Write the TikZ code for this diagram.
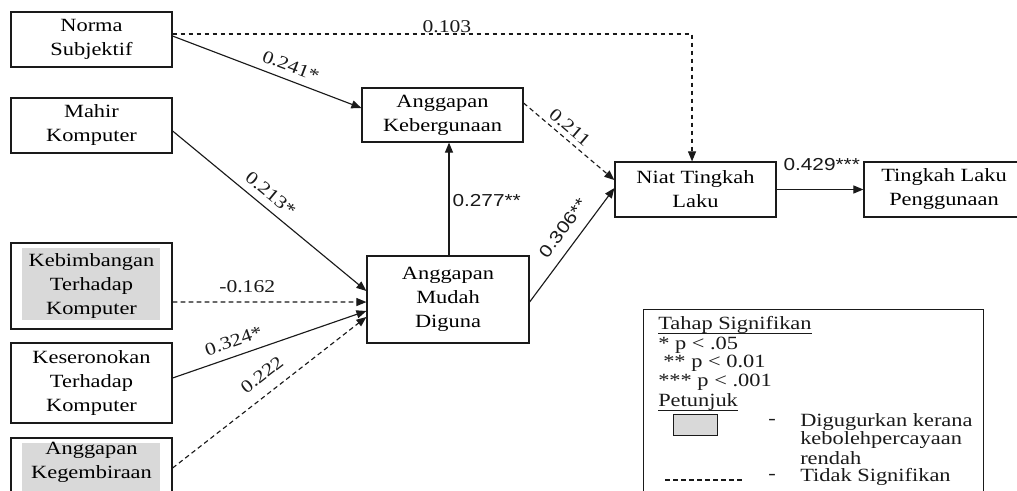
\documentclass[tikz,border=0pt]{standalone}
\usepackage{fontspec}
\usepackage{graphicx}
\setmainfont{Liberation Serif}
\newfontfamily\lsans{Liberation Sans}
\usetikzlibrary{arrows.meta}
\definecolor{lgrey}{HTML}{D9D9D9}
\definecolor{ink}{HTML}{1A1A1A}
\newcommand{\sx}[1]{\scalebox{1.2}[1]{#1}}
\newcommand{\legul}[1]{\underline{\raisebox{0pt}[\height][1.2pt]{#1}}}
\begin{document}
\begin{tikzpicture}[x=0.75pt,y=-0.75pt,
  box/.style={draw=ink, line width=0.9pt, inner sep=0pt, align=center, font=\fontsize{14}{18}\selectfont},
  conn/.style={draw=ink, line width=0.85pt, -{Triangle[length=7.5pt,width=6pt]}},
  dconn/.style={conn, dash pattern=on 3.5pt off 2.5pt},
  lab/.style={font=\fontsize{13.5}{15}\selectfont, text=ink},
  labsans/.style={font=\fontsize{13}{15}\lsans, text=ink},
  legtext/.style={font=\fontsize{14}{15}\selectfont, anchor=west, inner sep=0pt, text=ink}]
\useasboundingbox (0,0) rectangle (1017,490);
\clip (0,0) rectangle (1017,490);
\fill[white] (0,0) rectangle (1017,490);

% grey shading of dropped constructs
\fill[lgrey] (22,248) rectangle (160,320);
\fill[lgrey] (22,443) rectangle (160,510);

% boxes
\node[box, minimum width=120.75pt, minimum height=41.25pt] (norma) at (91.5,39.5) {\sx{Norma}\\\sx{Subjektif}};
\node[box, minimum width=120.75pt, minimum height=41.25pt] (mahir) at (91.5,125.5) {\sx{Mahir}\\\sx{Komputer}};
\node[box, minimum width=120.75pt, minimum height=64.5pt] (kebim) at (91.5,286) {\sx{Kebimbangan}\\\sx{Terhadap}\\\sx{Komputer}};
\node[box, minimum width=120.75pt, minimum height=60pt] (keser) at (91.5,383) {\sx{Keseronokan}\\\sx{Terhadap}\\\sx{Komputer}};
\node[box, minimum width=120.75pt, minimum height=51pt] (kegem) at (91.5,472) {\sx{Anggapan}\\\sx{Kegembiraan}\\ };
\node[box, minimum width=120.75pt, minimum height=40.5pt] (keberg) at (442.5,115) {\sx{Anggapan}\\\sx{Kebergunaan}};
\node[box, minimum width=121.5pt, minimum height=65.25pt] (mudah) at (448,299.5) {\sx{Anggapan}\\\sx{Mudah}\\\sx{Diguna}};
\node[box, minimum width=120.75pt, minimum height=41.25pt] (niat) at (695.5,189.5) {\sx{Niat Tingkah}\\\sx{Laku}};
\node[box, minimum width=135pt, minimum height=41.25pt] (tingkah) at (954,189.5) {\hspace*{-15pt}\sx{Tingkah Laku}\\\hspace*{-15pt}\sx{Penggunaan}};

% connectors
\draw[dconn] ([yshift=4.1pt]norma.east) -| node[lab, above, pos=0.264, inner sep=0.75pt] {\sx{0.103}} ([xshift=-2.6pt]niat.north);
\draw[conn] ([yshift=2.6pt]norma.east) -- node[lab, sloped, above, pos=0.6, inner sep=5.5pt] {\sx{0.241*}} ([yshift=5.25pt]keberg.west);
\draw[conn] ([yshift=-4.1pt]mahir.east) -- node[lab, sloped, above, pos=0.46, inner sep=5.5pt] {\sx{0.213*}} ([yshift=6.4pt]mudah.west);
\draw[dconn] ([yshift=-12pt]kebim.east) -- node[lab, above, pos=0.385, inner sep=6.5pt] {\sx{-0.162}} ([yshift=-1.9pt]mudah.west);
\draw[conn] ([yshift=3.75pt]keser.east) -- node[lab, sloped, above, pos=0.34, inner sep=6.25pt] {\sx{0.324*}} ([yshift=-8.6pt]mudah.west);
\draw[dconn] ([yshift=3pt]kegem.east) -- node[lab, sloped, above, pos=0.52, inner sep=9pt] {\sx{0.222}} ([yshift=-13.1pt]mudah.west);
\draw[conn] ([xshift=0.75pt]mudah.north) -- node[labsans, right, pos=0.49, inner sep=2.25pt] {\sx{0.277**}} ([xshift=0.75pt]mudah.north |- keberg.south);
\draw[conn] ([yshift=-1.9pt]mudah.east) -- node[labsans, sloped, above, pos=0.557, inner sep=8pt] {\sx{0.306**}} ([yshift=1.1pt]niat.west);
\draw[dconn] ([yshift=9pt]keberg.east) -- node[lab, sloped, above, pos=0.43, inner sep=3.5pt] {\sx{0.211}} ([yshift=7.1pt]niat.west);
\draw[conn] (niat.east) -- node[labsans, above, pos=0.52, inner sep=13.5pt] {\sx{0.429***}} (tingkah.west);

% legend
\node[draw=ink, line width=0.9pt, minimum width=255pt, minimum height=150pt, inner sep=0pt, anchor=north west] (legend) at (643,309) {};
\node[legtext] (t1) at (658,325) {\sx{\legul{Tahap Signifikan}}};
\node[legtext] (t2) at (658,345) {\sx{* p < .05}};
\node[legtext] (t3) at (663,363) {\sx{** p < 0.01}};
\node[legtext] (t4) at (658,382) {\sx{*** p < .001}};
\node[legtext] (t5) at (658,402) {\sx{\legul{Petunjuk}}};
\node[draw=ink, fill=lgrey, line width=0.7pt, minimum width=33pt, minimum height=15.75pt, inner sep=0pt] (greykey) at (695,424.5) {};
\node[legtext] (d1) at (768,422) {\sx{-}};
\node[legtext] (t6) at (800,422) {\sx{Digugurkan kerana}};
\node[legtext] (t7) at (800,440) {\sx{kebolehpercayaan}};
\node[legtext] (t8) at (800,458) {\sx{rendah}};
\coordinate (dk1) at (665,480);
\coordinate (dk2) at (743,480);
\draw[ink, line width=0.8pt, dash pattern=on 3.5pt off 2.5pt] (dk1) -- (dk2);
\node[legtext] (d2) at (768,477) {\sx{-}};
\node[legtext] (t9) at (800,477) {\sx{Tidak Signifikan}};
\end{tikzpicture}
\end{document}
